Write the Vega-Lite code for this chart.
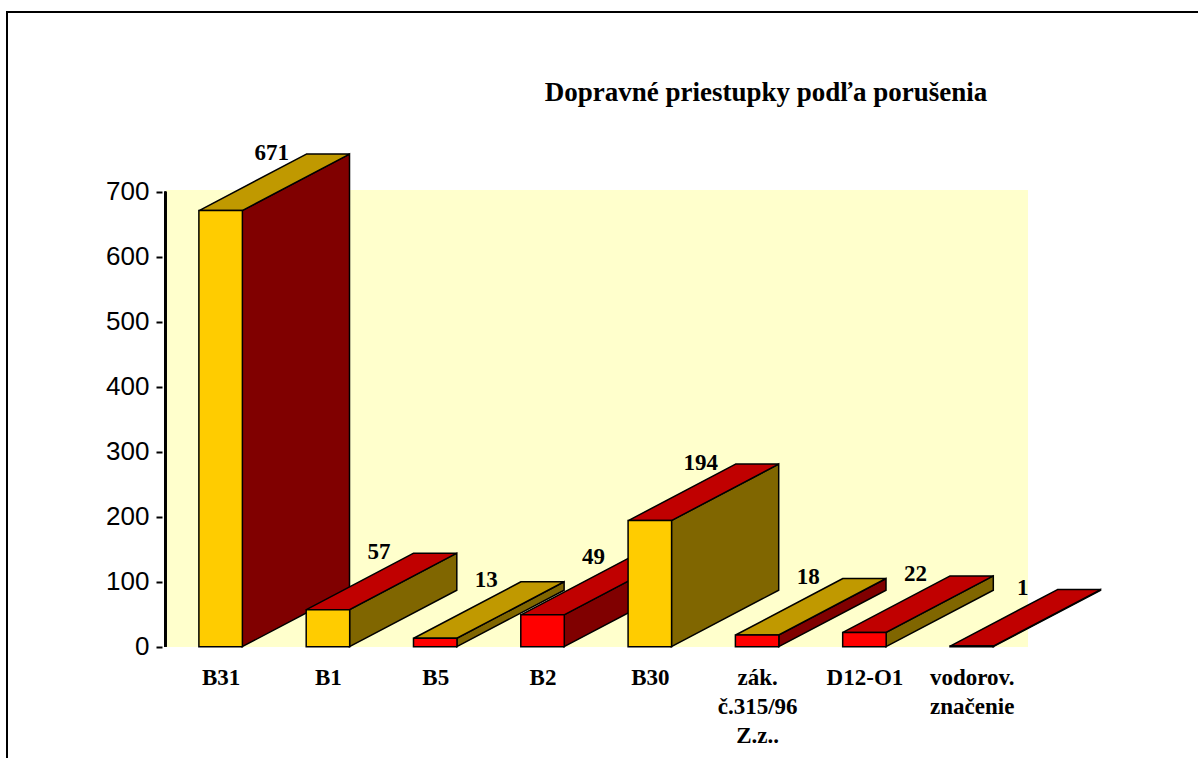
{
  "$schema": "https://vega.github.io/schema/vega-lite/v6.json",
  "width": 1200,
  "height": 760,
  "padding": {"left": 7, "top": 12, "right": 0, "bottom": 0},
  "background": "white",
  "config": {
    "view": {"stroke": "black", "strokeWidth": 2},
    "axis": {"grid": false, "title": null}
  },
  "title": {
    "text": "Dopravné priestupky podľa porušenia",
    "font": "Liberation Serif",
    "fontSize": 27,
    "fontWeight": "bold",
    "color": "black",
    "anchor": "middle",
    "frame": "group",
    "offset": 0,
    "baseline": "alphabetic",
    "dx": 159,
    "dy": 116
  },
  "data": {
    "values": [
      {"i": 0, "label": "B31", "value": 671, "front": "yellow", "top": "yellow", "side": "red"},
      {"i": 1, "label": "B1", "value": 57, "front": "yellow", "top": "red", "side": "yellow"},
      {"i": 2, "label": "B5", "value": 13, "front": "red", "top": "yellow", "side": "yellow"},
      {"i": 3, "label": "B2", "value": 49, "front": "red", "top": "red", "side": "red"},
      {"i": 4, "label": "B30", "value": 194, "front": "yellow", "top": "red", "side": "yellow"},
      {"i": 5, "label": "zák. č.315/96 Z.z..", "value": 18, "front": "red", "top": "yellow", "side": "red"},
      {"i": 6, "label": "D12-O1", "value": 22, "front": "red", "top": "red", "side": "yellow"},
      {"i": 7, "label": "vodorov. značenie", "value": 1, "front": "red", "top": "red", "side": "red"}
    ]
  },
  "resolve": {"scale": {"color": "independent"}},
  "layer": [
    {
      "mark": {"type": "rect", "color": "#FFFFCC"},
      "encoding": {
        "x": {
          "datum": -0.5065,
          "type": "quantitative",
          "scale": {"domain": [-1.9445, 9.146], "nice": false, "zero": false},
          "axis": {
            "values": [0, 1, 2, 3, 4, 5, 6, 7],
            "labelExpr": "split(['B31','B1','B5','B2','B30','zák.|č.315/96|Z.z..','D12-O1','vodorov.|značenie'][datum.value], '|')",
            "orient": "bottom",
            "offset": -106,
            "domain": false,
            "ticks": false,
            "tickSize": 0,
            "labelPadding": 0,
            "labelFont": "Liberation Serif",
            "labelFontSize": 23,
            "labelFontWeight": "bold",
            "labelColor": "black",
            "labelLineHeight": 29,
            "labelOverlap": false,
            "labelFlush": false,
            "labelBound": false,
            "title": null,
            "grid": false,
            "zindex": 1
          }
        },
        "x2": {"datum": 7.52},
        "y": {
          "datum": 0,
          "type": "quantitative",
          "scale": {"domain": [-192.77, 976.46], "nice": false, "zero": false},
          "axis": {
            "values": [0, 100, 200, 300, 400, 500, 600, 700],
            "orient": "left",
            "offset": -155,
            "domain": false,
            "ticks": true,
            "tickSize": 6,
            "tickWidth": 2,
            "tickColor": "black",
            "labelPadding": 7,
            "labelFont": "Liberation Sans",
            "labelFontSize": 26,
            "labelColor": "black",
            "labelBound": false,
            "labelOverlap": false,
            "title": null,
            "grid": false,
            "zindex": 1
          }
        },
        "y2": {"datum": 702}
      }
    },
    {
      "mark": {"type": "rule", "color": "black", "strokeWidth": 2},
      "encoding": {
        "x": {"datum": -0.515, "type": "quantitative"},
        "y": {"datum": 0, "type": "quantitative"},
        "y2": {"datum": 700}
      }
    },
    {
      "transform": [
        {"calculate": "[0, 1]", "as": "k"},
        {"flatten": ["k"]},
        {"calculate": "datum.i + 0.201 + datum.k", "as": "sx"},
        {"calculate": "datum.k * 86.9", "as": "sy"},
        {"calculate": "datum.value + datum.k * 86.9", "as": "sy2"}
      ],
      "mark": {"type": "area", "orient": "vertical", "stroke": "black", "strokeWidth": 1.5, "strokeJoin": "miter", "interpolate": "linear"},
      "encoding": {
        "x": {"field": "sx", "type": "quantitative"},
        "y": {"field": "sy", "type": "quantitative", "stack": null},
        "y2": {"field": "sy2"},
        "detail": {"field": "label"},
        "color": {"field": "side", "type": "nominal", "scale": {"domain": ["yellow", "red"], "range": ["#806600", "#800000"]}, "legend": null}
      }
    },
    {
      "transform": [
        {"calculate": "[0, 1]", "as": "k"},
        {"flatten": ["k"]},
        {"calculate": "datum.i - 0.201 + datum.k", "as": "tx"},
        {"calculate": "datum.i + 0.201 + datum.k", "as": "tx2"},
        {"calculate": "datum.value + datum.k * 86.9", "as": "ty"}
      ],
      "mark": {"type": "area", "orient": "horizontal", "stroke": "black", "strokeWidth": 1.5, "strokeJoin": "miter", "interpolate": "linear"},
      "encoding": {
        "y": {"field": "ty", "type": "quantitative"},
        "x": {"field": "tx", "type": "quantitative", "stack": null},
        "x2": {"field": "tx2"},
        "detail": {"field": "label"},
        "color": {"field": "top", "type": "nominal", "scale": {"domain": ["yellow", "red"], "range": ["#C09900", "#C00000"]}, "legend": null}
      }
    },
    {
      "mark": {"type": "bar", "orient": "vertical", "width": 43.5, "stroke": "black", "strokeWidth": 1.5},
      "encoding": {
        "x": {"field": "i", "type": "quantitative"},
        "y": {"field": "value", "type": "quantitative", "stack": null},
        "y2": {"datum": 0},
        "color": {"field": "front", "type": "nominal", "scale": {"domain": ["yellow", "red"], "range": ["#FFCC00", "#FF0000"]}, "legend": null}
      }
    },
    {
      "mark": {"type": "text", "font": "Liberation Serif", "fontSize": 23, "fontWeight": "bold", "color": "black", "align": "center", "baseline": "alphabetic", "dx": 51, "dy": -51},
      "encoding": {
        "x": {"field": "i", "type": "quantitative"},
        "y": {"field": "value", "type": "quantitative"},
        "text": {"field": "value", "type": "quantitative"}
      }
    }
  ]
}
